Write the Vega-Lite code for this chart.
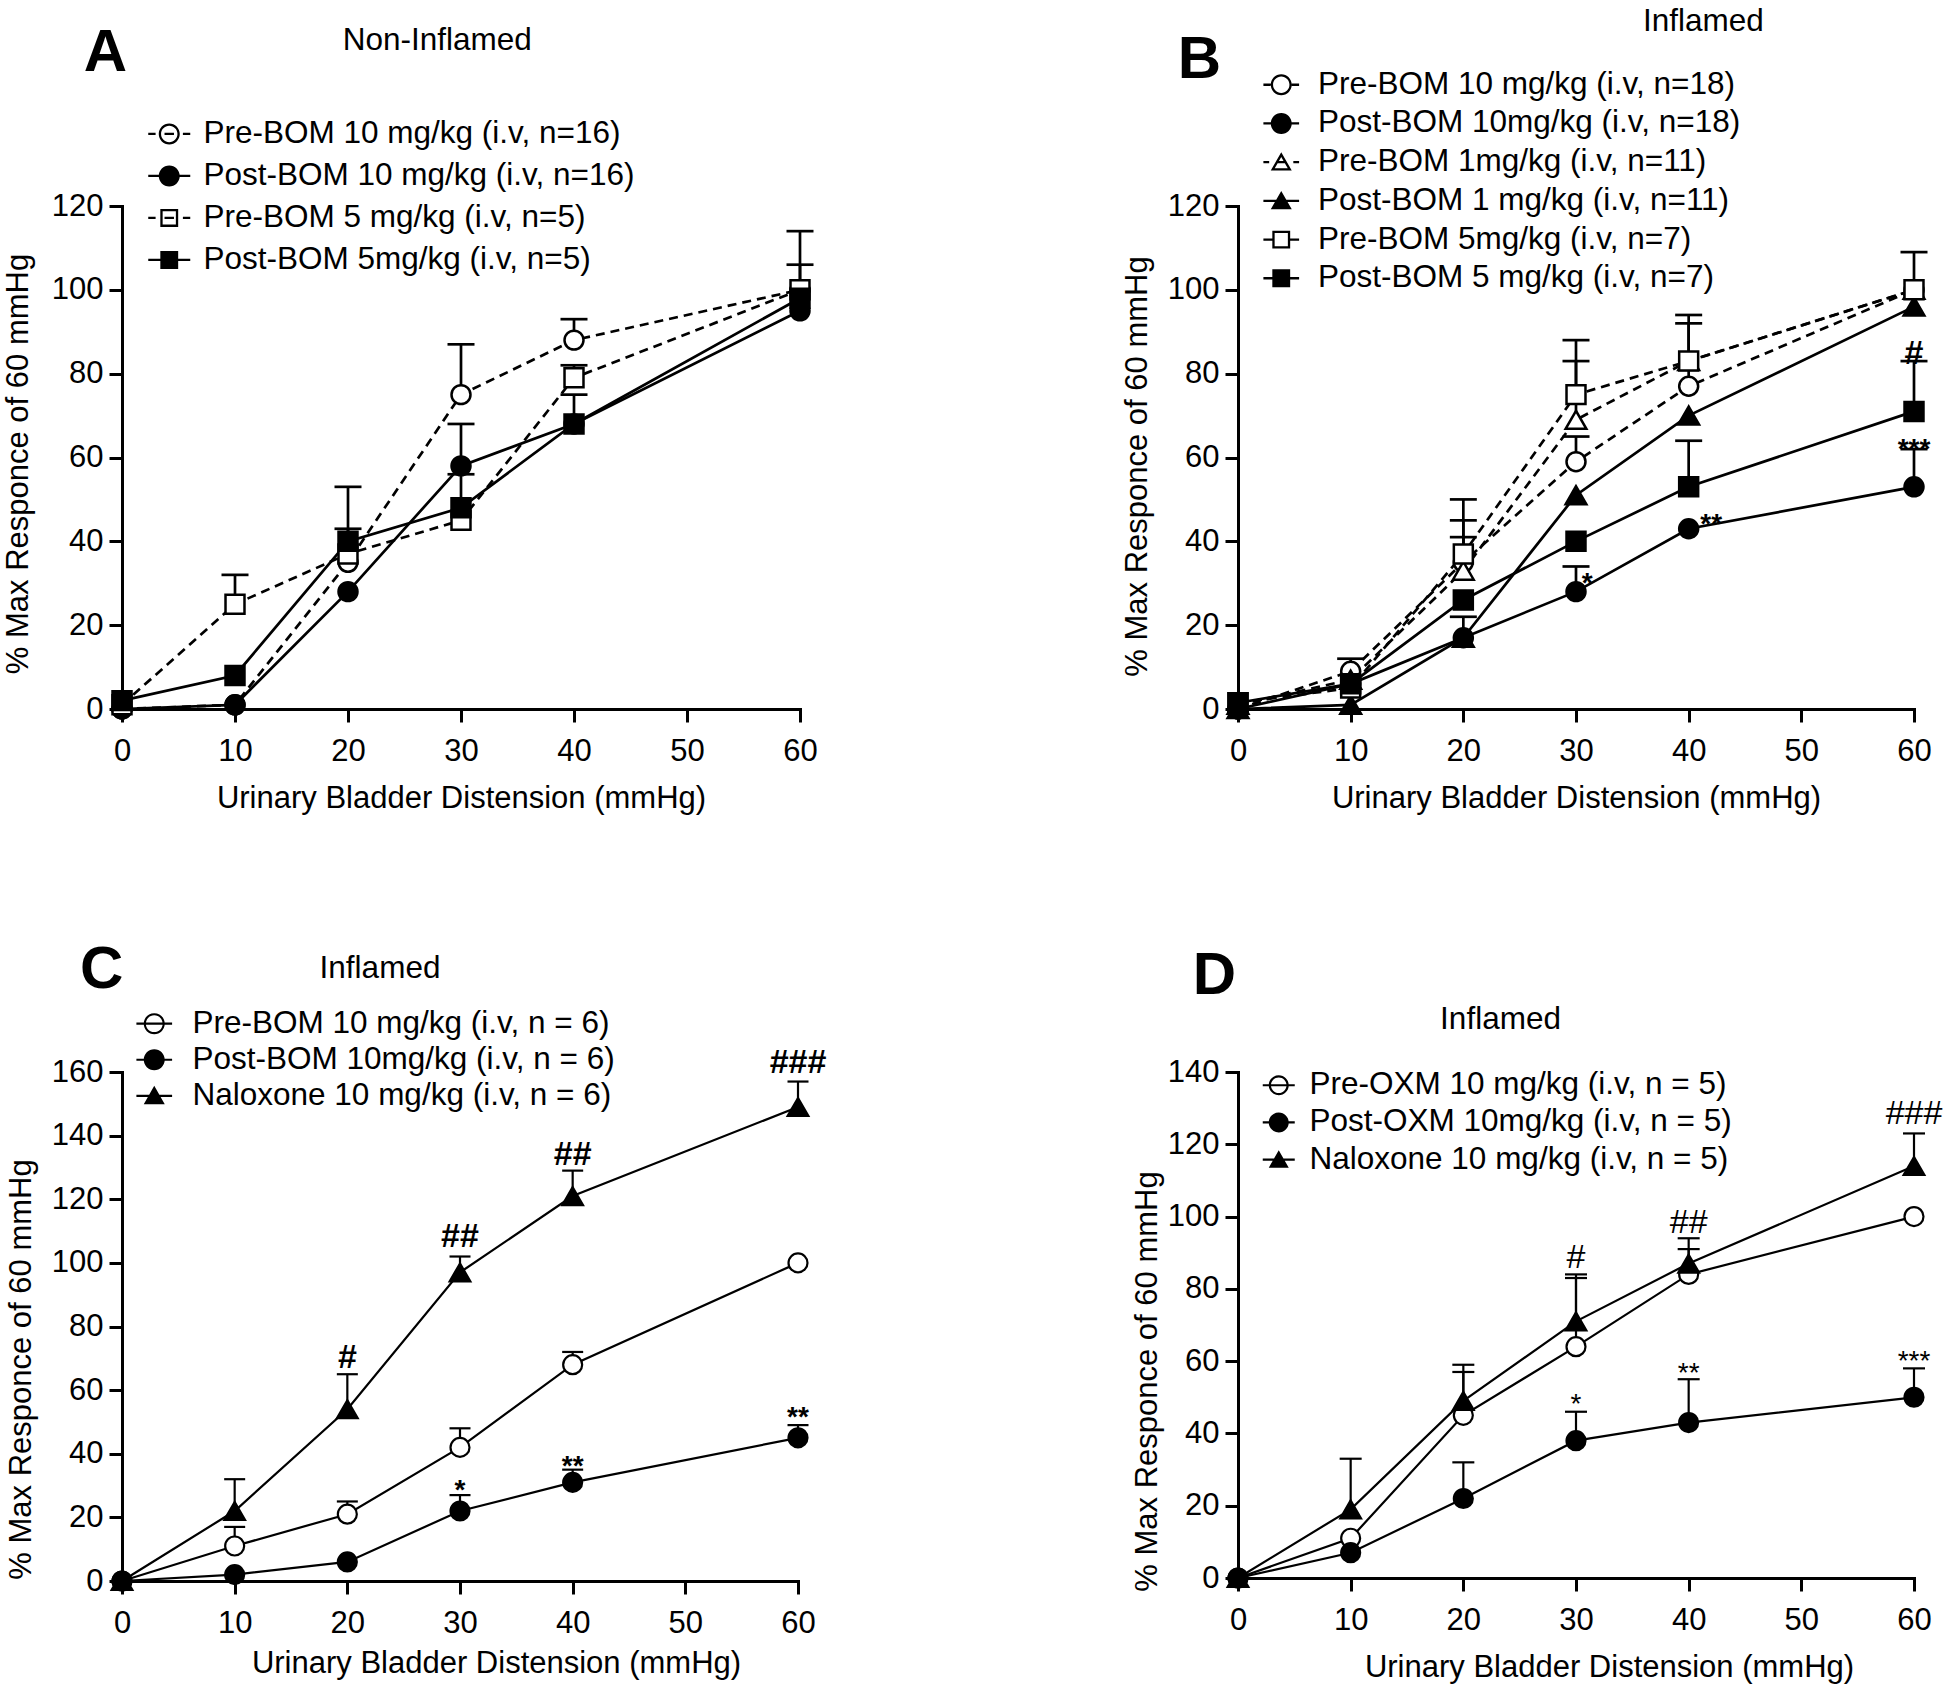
{
  "$schema": "https://vega.github.io/schema/vega-lite/v6.json",
  "autosize": "none",
  "padding": {"left": 122, "top": 206, "right": 1828, "bottom": 1480},
  "background": "white",
  "bounds": "flush",
  "columns": 2,
  "spacing": {"row": 363, "column": 438},
  "resolve": {
    "scale": {"x": "independent", "y": "independent", "shape": "independent"},
    "legend": {"shape": "independent"},
    "axis": {"x": "independent", "y": "independent"}
  },
  "config": {
    "font": "Liberation Sans",
    "view": {"stroke": null},
    "axis": {"grid": false, "domainColor": "black", "domainWidth": 3, "domainCap": "square", "tickColor": "black", "tickWidth": 3, "tickSize": 13,
      "labelFont": "Liberation Sans", "labelFontSize": 31, "labelColor": "black", "titleFont": "Liberation Sans", "titleFontSize": 31,
      "titleFontWeight": "normal", "titleColor": "black", "labelFlush": false, "labelOverlap": false},
    "axisX": {"labelPadding": 14, "titlePadding": 17.5},
    "axisY": {"labelPadding": 6, "titlePadding": 14},
    "legend": {"labelFont": "Liberation Sans", "labelFontSize": 31.5, "labelColor": "black", "symbolSize": 441, "padding": 0, "labelLimit": 0,
      "symbolStrokeWidth": 0, "symbolFillColor": "black", "symbolOpacity": 1}
  },
  "datasets": {
    "A": [
      {"series": "Pre-BOM 10 mg/kg (i.v, n=16)", "x": 0, "y": 0},
      {"series": "Pre-BOM 10 mg/kg (i.v, n=16)", "x": 10, "y": 1},
      {"series": "Pre-BOM 10 mg/kg (i.v, n=16)", "x": 20, "y": 35, "upper": 43},
      {"series": "Pre-BOM 10 mg/kg (i.v, n=16)", "x": 30, "y": 75, "upper": 87},
      {"series": "Pre-BOM 10 mg/kg (i.v, n=16)", "x": 40, "y": 88, "upper": 93},
      {"series": "Pre-BOM 10 mg/kg (i.v, n=16)", "x": 60, "y": 100, "upper": 106},
      {"series": "Post-BOM 10 mg/kg (i.v, n=16)", "x": 0, "y": 0},
      {"series": "Post-BOM 10 mg/kg (i.v, n=16)", "x": 10, "y": 1},
      {"series": "Post-BOM 10 mg/kg (i.v, n=16)", "x": 20, "y": 28},
      {"series": "Post-BOM 10 mg/kg (i.v, n=16)", "x": 30, "y": 58, "upper": 68},
      {"series": "Post-BOM 10 mg/kg (i.v, n=16)", "x": 40, "y": 68},
      {"series": "Post-BOM 10 mg/kg (i.v, n=16)", "x": 60, "y": 95},
      {"series": "Pre-BOM 5 mg/kg (i.v, n=5)", "x": 0, "y": 1},
      {"series": "Pre-BOM 5 mg/kg (i.v, n=5)", "x": 10, "y": 25, "upper": 32},
      {"series": "Pre-BOM 5 mg/kg (i.v, n=5)", "x": 20, "y": 37},
      {"series": "Pre-BOM 5 mg/kg (i.v, n=5)", "x": 30, "y": 45},
      {"series": "Pre-BOM 5 mg/kg (i.v, n=5)", "x": 40, "y": 79, "upper": 82},
      {"series": "Pre-BOM 5 mg/kg (i.v, n=5)", "x": 60, "y": 100, "upper": 114},
      {"series": "Post-BOM 5mg/kg (i.v, n=5)", "x": 0, "y": 2},
      {"series": "Post-BOM 5mg/kg (i.v, n=5)", "x": 10, "y": 8},
      {"series": "Post-BOM 5mg/kg (i.v, n=5)", "x": 20, "y": 40, "upper": 53},
      {"series": "Post-BOM 5mg/kg (i.v, n=5)", "x": 30, "y": 48, "upper": 56},
      {"series": "Post-BOM 5mg/kg (i.v, n=5)", "x": 40, "y": 68, "upper": 75},
      {"series": "Post-BOM 5mg/kg (i.v, n=5)", "x": 60, "y": 98}
    ],
    "B": [
      {"series": "Pre-BOM 10 mg/kg (i.v, n=18)", "x": 0, "y": 0},
      {"series": "Pre-BOM 10 mg/kg (i.v, n=18)", "x": 10, "y": 9},
      {"series": "Pre-BOM 10 mg/kg (i.v, n=18)", "x": 20, "y": 35, "upper": 45},
      {"series": "Pre-BOM 10 mg/kg (i.v, n=18)", "x": 30, "y": 59, "upper": 65},
      {"series": "Pre-BOM 10 mg/kg (i.v, n=18)", "x": 40, "y": 77, "upper": 92},
      {"series": "Pre-BOM 10 mg/kg (i.v, n=18)", "x": 60, "y": 100},
      {"series": "Post-BOM 10mg/kg (i.v, n=18)", "x": 0, "y": 0},
      {"series": "Post-BOM 10mg/kg (i.v, n=18)", "x": 10, "y": 6},
      {"series": "Post-BOM 10mg/kg (i.v, n=18)", "x": 20, "y": 17},
      {"series": "Post-BOM 10mg/kg (i.v, n=18)", "x": 30, "y": 28, "upper": 34},
      {"series": "Post-BOM 10mg/kg (i.v, n=18)", "x": 40, "y": 43},
      {"series": "Post-BOM 10mg/kg (i.v, n=18)", "x": 60, "y": 53, "upper": 62},
      {"series": "Pre-BOM 1mg/kg (i.v, n=11)", "x": 0, "y": 1},
      {"series": "Pre-BOM 1mg/kg (i.v, n=11)", "x": 10, "y": 7},
      {"series": "Pre-BOM 1mg/kg (i.v, n=11)", "x": 20, "y": 33, "upper": 41},
      {"series": "Pre-BOM 1mg/kg (i.v, n=11)", "x": 30, "y": 69, "upper": 83},
      {"series": "Pre-BOM 1mg/kg (i.v, n=11)", "x": 40, "y": 83},
      {"series": "Pre-BOM 1mg/kg (i.v, n=11)", "x": 60, "y": 100},
      {"series": "Post-BOM 1 mg/kg (i.v, n=11)", "x": 0, "y": 0},
      {"series": "Post-BOM 1 mg/kg (i.v, n=11)", "x": 10, "y": 1},
      {"series": "Post-BOM 1 mg/kg (i.v, n=11)", "x": 20, "y": 17, "upper": 22},
      {"series": "Post-BOM 1 mg/kg (i.v, n=11)", "x": 30, "y": 51},
      {"series": "Post-BOM 1 mg/kg (i.v, n=11)", "x": 40, "y": 70},
      {"series": "Post-BOM 1 mg/kg (i.v, n=11)", "x": 60, "y": 96},
      {"series": "Pre-BOM 5mg/kg (i.v, n=7)", "x": 0, "y": 1.5},
      {"series": "Pre-BOM 5mg/kg (i.v, n=7)", "x": 10, "y": 5, "upper": 12},
      {"series": "Pre-BOM 5mg/kg (i.v, n=7)", "x": 20, "y": 37, "upper": 50},
      {"series": "Pre-BOM 5mg/kg (i.v, n=7)", "x": 30, "y": 75, "upper": 88},
      {"series": "Pre-BOM 5mg/kg (i.v, n=7)", "x": 40, "y": 83, "upper": 94},
      {"series": "Pre-BOM 5mg/kg (i.v, n=7)", "x": 60, "y": 100, "upper": 109},
      {"series": "Post-BOM 5 mg/kg (i.v, n=7)", "x": 0, "y": 1.5},
      {"series": "Post-BOM 5 mg/kg (i.v, n=7)", "x": 10, "y": 6},
      {"series": "Post-BOM 5 mg/kg (i.v, n=7)", "x": 20, "y": 26},
      {"series": "Post-BOM 5 mg/kg (i.v, n=7)", "x": 30, "y": 40},
      {"series": "Post-BOM 5 mg/kg (i.v, n=7)", "x": 40, "y": 53, "upper": 64},
      {"series": "Post-BOM 5 mg/kg (i.v, n=7)", "x": 60, "y": 71, "upper": 83}
    ],
    "C": [
      {"series": "Pre-BOM 10 mg/kg (i.v, n = 6)", "x": 0, "y": 0},
      {"series": "Pre-BOM 10 mg/kg (i.v, n = 6)", "x": 10, "y": 11, "upper": 17},
      {"series": "Pre-BOM 10 mg/kg (i.v, n = 6)", "x": 20, "y": 21, "upper": 25},
      {"series": "Pre-BOM 10 mg/kg (i.v, n = 6)", "x": 30, "y": 42, "upper": 48},
      {"series": "Pre-BOM 10 mg/kg (i.v, n = 6)", "x": 40, "y": 68, "upper": 72},
      {"series": "Pre-BOM 10 mg/kg (i.v, n = 6)", "x": 60, "y": 100},
      {"series": "Post-BOM 10mg/kg (i.v, n = 6)", "x": 0, "y": 0},
      {"series": "Post-BOM 10mg/kg (i.v, n = 6)", "x": 10, "y": 2},
      {"series": "Post-BOM 10mg/kg (i.v, n = 6)", "x": 20, "y": 6},
      {"series": "Post-BOM 10mg/kg (i.v, n = 6)", "x": 30, "y": 22, "upper": 27},
      {"series": "Post-BOM 10mg/kg (i.v, n = 6)", "x": 40, "y": 31, "upper": 35},
      {"series": "Post-BOM 10mg/kg (i.v, n = 6)", "x": 60, "y": 45, "upper": 49},
      {"series": "Naloxone 10 mg/kg  (i.v, n = 6)", "x": 0, "y": 0},
      {"series": "Naloxone 10 mg/kg  (i.v, n = 6)", "x": 10, "y": 22, "upper": 32},
      {"series": "Naloxone 10 mg/kg  (i.v, n = 6)", "x": 20, "y": 54, "upper": 65},
      {"series": "Naloxone 10 mg/kg  (i.v, n = 6)", "x": 30, "y": 97, "upper": 102},
      {"series": "Naloxone 10 mg/kg  (i.v, n = 6)", "x": 40, "y": 121, "upper": 129},
      {"series": "Naloxone 10 mg/kg  (i.v, n = 6)", "x": 60, "y": 149, "upper": 157}
    ],
    "D": [
      {"series": "Pre-OXM 10 mg/kg (i.v, n = 5)", "x": 0, "y": 0},
      {"series": "Pre-OXM 10 mg/kg (i.v, n = 5)", "x": 10, "y": 11},
      {"series": "Pre-OXM 10 mg/kg (i.v, n = 5)", "x": 20, "y": 45, "upper": 57},
      {"series": "Pre-OXM 10 mg/kg (i.v, n = 5)", "x": 30, "y": 64, "upper": 83},
      {"series": "Pre-OXM 10 mg/kg (i.v, n = 5)", "x": 40, "y": 84, "upper": 91},
      {"series": "Pre-OXM 10 mg/kg (i.v, n = 5)", "x": 60, "y": 100},
      {"series": "Post-OXM 10mg/kg (i.v, n = 5)", "x": 0, "y": 0},
      {"series": "Post-OXM 10mg/kg (i.v, n = 5)", "x": 10, "y": 7},
      {"series": "Post-OXM 10mg/kg (i.v, n = 5)", "x": 20, "y": 22, "upper": 32},
      {"series": "Post-OXM 10mg/kg (i.v, n = 5)", "x": 30, "y": 38, "upper": 46},
      {"series": "Post-OXM 10mg/kg (i.v, n = 5)", "x": 40, "y": 43, "upper": 55},
      {"series": "Post-OXM 10mg/kg (i.v, n = 5)", "x": 60, "y": 50, "upper": 58},
      {"series": "Naloxone 10 mg/kg  (i.v, n = 5)", "x": 0, "y": 0},
      {"series": "Naloxone 10 mg/kg  (i.v, n = 5)", "x": 10, "y": 19, "upper": 33},
      {"series": "Naloxone 10 mg/kg  (i.v, n = 5)", "x": 20, "y": 49, "upper": 59},
      {"series": "Naloxone 10 mg/kg  (i.v, n = 5)", "x": 30, "y": 71, "upper": 84},
      {"series": "Naloxone 10 mg/kg  (i.v, n = 5)", "x": 40, "y": 87, "upper": 94},
      {"series": "Naloxone 10 mg/kg  (i.v, n = 5)", "x": 60, "y": 114, "upper": 123}
    ],
    "labA": [{"x": -1.47, "y": 156.4, "label": "A"}, {"x": 27.9, "y": 159.4, "label": "Non-Inflamed"}],
    "labB": [{"x": -3.42, "y": 154.9, "label": "B"}, {"x": 41.3, "y": 163.8, "label": "Inflamed"}],
    "labC": [{"x": -1.81, "y": 192.1, "label": "C"}, {"x": 22.9, "y": 192.5, "label": "Inflamed"}],
    "labD": [{"x": -2.09, "y": 166.6, "label": "D"}, {"x": 23.3, "y": 154.5, "label": "Inflamed"}],
    "annB": [
      {"x": 31, "y": 29.8, "label": "*"},
      {"x": 42, "y": 44, "label": "**"},
      {"x": 60, "y": 61.9, "label": "***"},
      {"x": 60, "y": 84.8, "label": "#"}
    ],
    "annC": [
      {"x": 30, "y": 28.2, "label": "*"},
      {"x": 40, "y": 35.9, "label": "**"},
      {"x": 60, "y": 51.3, "label": "**"},
      {"x": 20, "y": 70, "label": "#"},
      {"x": 30, "y": 108, "label": "##"},
      {"x": 40, "y": 134, "label": "##"},
      {"x": 60, "y": 162.7, "label": "###"}
    ],
    "annD": [
      {"x": 30, "y": 47.8, "label": "*"},
      {"x": 40, "y": 56.4, "label": "**"},
      {"x": 60, "y": 59.8, "label": "***"},
      {"x": 30, "y": 88.5, "label": "#"},
      {"x": 40, "y": 98.3, "label": "##"},
      {"x": 60, "y": 128.5, "label": "###"}
    ]
  },
  "concat": [
    {
      "width": 678, "height": 503,
      "encoding": {
        "x": {"field": "x", "type": "quantitative", "scale": {"domain": [0, 60], "nice": false, "zero": false},
          "axis": {"values": [0, 10, 20, 30, 40, 50, 60], "title": "Urinary Bladder Distension (mmHg)"}},
        "y": {"field": "y", "type": "quantitative", "scale": {"domain": [0, 120], "nice": false},
          "axis": {"values": [0, 20, 40, 60, 80, 100, 120], "title": "% Max Responce of 60 mmHg", "titleY": 257.5, "titlePadding": 16.5}}
      },
      "layer": [
        {"data": {"name": "A"}, "transform": [{"filter": {"field": "upper", "valid": true}}],
          "mark": {"type": "rule", "color": "black", "strokeWidth": 2.7},
          "encoding": {"y2": {"field": "upper"}}},
        {"data": {"name": "A"}, "transform": [{"filter": {"field": "upper", "valid": true}}],
          "mark": {"type": "tick", "orient": "horizontal", "color": "black", "size": 27, "thickness": 2.7, "opacity": 1},
          "encoding": {"y": {"field": "upper", "type": "quantitative", "scale": {"domain": [0, 120], "nice": false}}}},
        {"data": {"name": "A"}, "transform": [{"filter": "indexof(datum.series,'Pre')===0"}],
          "mark": {"type": "line", "color": "black", "strokeWidth": 2.7, "strokeDash": [9, 6]},
          "encoding": {"detail": {"field": "series", "type": "nominal"}}},
        {"data": {"name": "A"}, "transform": [{"filter": "indexof(datum.series,'Pre')!==0"}],
          "mark": {"type": "line", "color": "black", "strokeWidth": 2.7},
          "encoding": {"detail": {"field": "series", "type": "nominal"}}},
        {"data": {"name": "A"}, "mark": {"type": "point", "stroke": "black", "strokeWidth": 2.5, "size": 360, "opacity": 1},
          "encoding": {
            "fill": {"condition": {"test": "indexof(datum.series,'Pre')===0", "value": "white"}, "value": "black"},
            "shape": {"condition": {"test": "indexof(datum.series,'BOM 5')>=0", "value": "square"}, "value": "circle"}
          }},
        {"data": {"name": "A"}, "transform": [{"filter": "false"}],
          "mark": {"type": "point", "filled": true, "color": "black", "opacity": 1},
          "encoding": {
            "shape": {"field": "series", "type": "nominal",
              "scale": {"domain": ["Pre-BOM 10 mg/kg (i.v, n=16)", "Post-BOM 10 mg/kg (i.v, n=16)", "Pre-BOM 5 mg/kg (i.v, n=5)", "Post-BOM 5mg/kg (i.v, n=5)"],
                "range": [
                  "M-2,-0.11H-1.3V0.11H-2ZM-0.45,-0.11H0.45V0.11H-0.45ZM1.3,-0.11H2V0.11H1.3ZM-1,0A1,1,0,1,1,1,0A1,1,0,1,1,-1,0ZM-0.78,0A0.78,0.78,0,1,0,0.78,0A0.78,0.78,0,1,0,-0.78,0Z",
                  "M-2,-0.11H2V0.11H-2ZM-1,0A1,1,0,1,1,1,0A1,1,0,1,1,-1,0Z",
                  "M-2,-0.11H-1.3V0.11H-2ZM-0.45,-0.11H0.45V0.11H-0.45ZM1.3,-0.11H2V0.11H1.3ZM-0.85,-0.85H0.85V0.85H-0.85ZM-0.63,-0.63V0.63H0.63V-0.63Z",
                  "M-2,-0.11H2V0.11H-2ZM-0.85,-0.85H0.85V0.85H-0.85Z"]},
              "legend": {"title": null, "orient": "none", "legendX": 31.5, "legendY": -87.8, "labelOffset": 18.5, "rowPadding": 9, "symbolSize": 441, "symbolStrokeWidth": 0, "symbolFillColor": "black"}}
          }},
        {"data": {"name": "labA"}, "transform": [{"filter": "length(datum.label)===1"}],
          "mark": {"type": "text", "fontSize": 60, "fontWeight": "bold", "baseline": "middle", "align": "center", "color": "black"},
          "encoding": {"text": {"field": "label"}}},
        {"data": {"name": "labA"}, "transform": [{"filter": "length(datum.label)>1"}],
          "mark": {"type": "text", "fontSize": 31.5, "baseline": "middle", "align": "center", "color": "black"},
          "encoding": {"text": {"field": "label"}}}
      ]
    },
    {
      "width": 676, "height": 503,
      "encoding": {
        "x": {"field": "x", "type": "quantitative", "scale": {"domain": [0, 60], "nice": false, "zero": false},
          "axis": {"values": [0, 10, 20, 30, 40, 50, 60], "title": "Urinary Bladder Distension (mmHg)"}},
        "y": {"field": "y", "type": "quantitative", "scale": {"domain": [0, 120], "nice": false},
          "axis": {"values": [0, 20, 40, 60, 80, 100, 120], "title": "% Max Responce of 60 mmHg", "titleY": 260}}
      },
      "layer": [
        {"data": {"name": "B"}, "transform": [{"filter": {"field": "upper", "valid": true}}],
          "mark": {"type": "rule", "color": "black", "strokeWidth": 2.7},
          "encoding": {"y2": {"field": "upper"}}},
        {"data": {"name": "B"}, "transform": [{"filter": {"field": "upper", "valid": true}}],
          "mark": {"type": "tick", "orient": "horizontal", "color": "black", "size": 27, "thickness": 2.7, "opacity": 1},
          "encoding": {"y": {"field": "upper", "type": "quantitative", "scale": {"domain": [0, 120], "nice": false}}}},
        {"data": {"name": "B"}, "transform": [{"filter": "indexof(datum.series,'Pre')===0"}],
          "mark": {"type": "line", "color": "black", "strokeWidth": 2.7, "strokeDash": [9, 6]},
          "encoding": {"detail": {"field": "series", "type": "nominal"}}},
        {"data": {"name": "B"}, "transform": [{"filter": "indexof(datum.series,'Pre')!==0"}],
          "mark": {"type": "line", "color": "black", "strokeWidth": 2.7},
          "encoding": {"detail": {"field": "series", "type": "nominal"}}},
        {"data": {"name": "B"}, "mark": {"type": "point", "stroke": "black", "strokeWidth": 2.5, "opacity": 1},
          "encoding": {
            "fill": {"condition": {"test": "indexof(datum.series,'Pre')===0", "value": "white"}, "value": "black"},
            "size": {"condition": {"test": "indexof(datum.series,'BOM 1m')>=0 || indexof(datum.series,'BOM 1 ')>=0", "value": 430}, "value": 360},
            "shape": {"condition": [
              {"test": "indexof(datum.series,'BOM 5')>=0", "value": "square"},
              {"test": "indexof(datum.series,'BOM 1m')>=0 || indexof(datum.series,'BOM 1 ')>=0", "value": "triangle-up"}
            ], "value": "circle"}
          }},
        {"data": {"name": "B"}, "transform": [{"filter": "false"}],
          "mark": {"type": "point", "filled": true, "color": "black", "opacity": 1},
          "encoding": {
            "shape": {"field": "series", "type": "nominal",
              "scale": {"domain": ["Pre-BOM 10 mg/kg (i.v, n=18)", "Post-BOM 10mg/kg (i.v, n=18)", "Pre-BOM 1mg/kg (i.v, n=11)", "Post-BOM 1 mg/kg (i.v, n=11)", "Pre-BOM 5mg/kg (i.v, n=7)", "Post-BOM 5 mg/kg (i.v, n=7)"],
                "range": [
                  "M-1.7,-0.11H-1V0.11H-1.7ZM1,-0.11H1.7V0.11H1ZM-1,0A1,1,0,1,1,1,0A1,1,0,1,1,-1,0ZM-0.78,0A0.78,0.78,0,1,0,0.78,0A0.78,0.78,0,1,0,-0.78,0Z",
                  "M-1.7,-0.11H1.7V0.11H-1.7ZM-1,0A1,1,0,1,1,1,0A1,1,0,1,1,-1,0Z",
                  "M-1.7,-0.11H-1.15V0.11H-1.7ZM-0.35,-0.11H0.35V0.11H-0.35ZM1.15,-0.11H1.7V0.11H1.15ZM0,-0.95L1,0.8L-1,0.8ZM0,-0.5L-0.62,0.58L0.62,0.58Z",
                  "M-1.7,-0.11H1.7V0.11H-1.7ZM0,-0.95L1,0.8L-1,0.8Z",
                  "M-1.7,-0.11H-0.85V0.11H-1.7ZM0.85,-0.11H1.7V0.11H0.85ZM-0.85,-0.85H0.85V0.85H-0.85ZM-0.63,-0.63V0.63H0.63V-0.63Z",
                  "M-1.7,-0.11H1.7V0.11H-1.7ZM-0.85,-0.85H0.85V0.85H-0.85Z"]},
              "legend": {"title": null, "orient": "none", "legendX": 27.5, "legendY": -137, "labelOffset": 21, "rowPadding": 5.7, "symbolSize": 441, "symbolStrokeWidth": 0, "symbolFillColor": "black"}}
          }},
        {"data": {"name": "annB"}, "mark": {"type": "text", "fontWeight": "bold", "baseline": "middle", "align": "center", "color": "black"},
          "encoding": {"text": {"field": "label"},
            "size": {"condition": {"test": "indexof(datum.label,'#')>=0", "value": 34}, "value": 28}}},
        {"data": {"name": "labB"}, "transform": [{"filter": "length(datum.label)===1"}],
          "mark": {"type": "text", "fontSize": 60, "fontWeight": "bold", "baseline": "middle", "align": "center", "color": "black"},
          "encoding": {"text": {"field": "label"}}},
        {"data": {"name": "labB"}, "transform": [{"filter": "length(datum.label)>1"}],
          "mark": {"type": "text", "fontSize": 31.5, "baseline": "middle", "align": "center", "color": "black"},
          "encoding": {"text": {"field": "label"}}}
      ]
    },
    {
      "width": 676, "height": 509,
      "encoding": {
        "x": {"field": "x", "type": "quantitative", "scale": {"domain": [0, 60], "nice": false, "zero": false},
          "axis": {"values": [0, 10, 20, 30, 40, 50, 60], "title": "Urinary Bladder Distension (mmHg)", "titleX": 374, "titlePadding": 10}},
        "y": {"field": "y", "type": "quantitative", "scale": {"domain": [0, 160], "nice": false},
          "axis": {"values": [0, 20, 40, 60, 80, 100, 120, 140, 160], "title": "% Max Responce of 60 mmHg", "titleY": 297}}
      },
      "layer": [
        {"data": {"name": "C"}, "transform": [{"filter": {"field": "upper", "valid": true}}],
          "mark": {"type": "rule", "color": "black", "strokeWidth": 2.2},
          "encoding": {"y2": {"field": "upper"}}},
        {"data": {"name": "C"}, "transform": [{"filter": {"field": "upper", "valid": true}}],
          "mark": {"type": "tick", "orient": "horizontal", "color": "black", "size": 21, "thickness": 2.2, "opacity": 1},
          "encoding": {"y": {"field": "upper", "type": "quantitative", "scale": {"domain": [0, 160], "nice": false}}}},
        {"data": {"name": "C"}, "mark": {"type": "line", "color": "black", "strokeWidth": 2.2},
          "encoding": {"detail": {"field": "series", "type": "nominal"}}},
        {"data": {"name": "C"}, "mark": {"type": "point", "stroke": "black", "strokeWidth": 2.2, "opacity": 1},
          "encoding": {
            "fill": {"condition": {"test": "indexof(datum.series,'Pre')===0", "value": "white"}, "value": "black"},
            "size": {"condition": {"test": "indexof(datum.series,'Nalox')===0", "value": 430}, "value": 360},
            "shape": {"condition": {"test": "indexof(datum.series,'Nalox')===0", "value": "triangle-up"}, "value": "circle"}
          }},
        {"data": {"name": "C"}, "transform": [{"filter": "false"}],
          "mark": {"type": "point", "filled": true, "color": "black", "opacity": 1},
          "encoding": {
            "shape": {"field": "series", "type": "nominal",
              "scale": {"domain": ["Pre-BOM 10 mg/kg (i.v, n = 6)", "Post-BOM 10mg/kg (i.v, n = 6)", "Naloxone 10 mg/kg  (i.v, n = 6)"],
                "range": [
                  "M-1.7,-0.1H1.7V0.1H-1.7ZM-1,0A1,1,0,1,1,1,0A1,1,0,1,1,-1,0ZM-0.8,0A0.8,0.8,0,1,0,0.8,0A0.8,0.8,0,1,0,-0.8,0Z",
                  "M-1.7,-0.1H1.7V0.1H-1.7ZM-1,0A1,1,0,1,1,1,0A1,1,0,1,1,-1,0Z",
                  "M-1.7,-0.1H1.7V0.1H-1.7ZM0,-0.95L1,0.8L-1,0.8Z"]},
              "legend": {"title": null, "orient": "none", "legendX": 16.5, "legendY": -64.1, "labelOffset": 22.5, "rowPadding": 3.1, "symbolSize": 441, "symbolStrokeWidth": 0, "symbolFillColor": "black"}}
          }},
        {"data": {"name": "annC"}, "mark": {"type": "text", "fontWeight": "bold", "baseline": "middle", "align": "center", "color": "black"},
          "encoding": {"text": {"field": "label"},
            "size": {"condition": {"test": "indexof(datum.label,'#')>=0", "value": 34}, "value": 28}}},
        {"data": {"name": "labC"}, "transform": [{"filter": "length(datum.label)===1"}],
          "mark": {"type": "text", "fontSize": 60, "fontWeight": "bold", "baseline": "middle", "align": "center", "color": "black"},
          "encoding": {"text": {"field": "label"}}},
        {"data": {"name": "labC"}, "transform": [{"filter": "length(datum.label)>1"}],
          "mark": {"type": "text", "fontSize": 31.5, "baseline": "middle", "align": "center", "color": "black"},
          "encoding": {"text": {"field": "label"}}}
      ]
    },
    {
      "width": 676, "height": 506,
      "encoding": {
        "x": {"field": "x", "type": "quantitative", "scale": {"domain": [0, 60], "nice": false, "zero": false},
          "axis": {"values": [0, 10, 20, 30, 40, 50, 60], "title": "Urinary Bladder Distension (mmHg)", "titleX": 371}},
        "y": {"field": "y", "type": "quantitative", "scale": {"domain": [0, 140], "nice": false},
          "axis": {"values": [0, 20, 40, 60, 80, 100, 120, 140], "title": "% Max Responce of 60 mmHg", "titleY": 309, "titlePadding": 4}}
      },
      "layer": [
        {"data": {"name": "D"}, "transform": [{"filter": {"field": "upper", "valid": true}}],
          "mark": {"type": "rule", "color": "black", "strokeWidth": 2.2},
          "encoding": {"y2": {"field": "upper"}}},
        {"data": {"name": "D"}, "transform": [{"filter": {"field": "upper", "valid": true}}],
          "mark": {"type": "tick", "orient": "horizontal", "color": "black", "size": 22, "thickness": 2.2, "opacity": 1},
          "encoding": {"y": {"field": "upper", "type": "quantitative", "scale": {"domain": [0, 140], "nice": false}}}},
        {"data": {"name": "D"}, "mark": {"type": "line", "color": "black", "strokeWidth": 2.2},
          "encoding": {"detail": {"field": "series", "type": "nominal"}}},
        {"data": {"name": "D"}, "mark": {"type": "point", "stroke": "black", "strokeWidth": 2.2, "opacity": 1},
          "encoding": {
            "fill": {"condition": {"test": "indexof(datum.series,'Pre')===0", "value": "white"}, "value": "black"},
            "size": {"condition": {"test": "indexof(datum.series,'Nalox')===0", "value": 430}, "value": 360},
            "shape": {"condition": {"test": "indexof(datum.series,'Nalox')===0", "value": "triangle-up"}, "value": "circle"}
          }},
        {"data": {"name": "D"}, "transform": [{"filter": "false"}],
          "mark": {"type": "point", "filled": true, "color": "black", "opacity": 1},
          "encoding": {
            "shape": {"field": "series", "type": "nominal",
              "scale": {"domain": ["Pre-OXM 10 mg/kg (i.v, n = 5)", "Post-OXM 10mg/kg (i.v, n = 5)", "Naloxone 10 mg/kg  (i.v, n = 5)"],
                "range": [
                  "M-1.6,-0.11H1.6V0.11H-1.6ZM-1,0A1,1,0,1,1,1,0A1,1,0,1,1,-1,0ZM-0.78,0A0.78,0.78,0,1,0,0.78,0A0.78,0.78,0,1,0,-0.78,0Z",
                  "M-1.6,-0.11H1.6V0.11H-1.6ZM-1,0A1,1,0,1,1,1,0A1,1,0,1,1,-1,0Z",
                  "M-1.6,-0.11H1.6V0.11H-1.6ZM0,-0.95L1,0.8L-1,0.8Z"]},
              "legend": {"title": null, "orient": "none", "legendX": 25, "legendY": -2.5, "labelOffset": 15, "rowPadding": 4.2, "symbolSize": 400, "symbolStrokeWidth": 0, "symbolFillColor": "black"}}
          }},
        {"data": {"name": "annD"}, "mark": {"type": "text", "baseline": "middle", "align": "center", "color": "black"},
          "encoding": {"text": {"field": "label"},
            "size": {"condition": {"test": "indexof(datum.label,'#')>=0", "value": 34}, "value": 28}}},
        {"data": {"name": "labD"}, "transform": [{"filter": "length(datum.label)===1"}],
          "mark": {"type": "text", "fontSize": 60, "fontWeight": "bold", "baseline": "middle", "align": "center", "color": "black"},
          "encoding": {"text": {"field": "label"}}},
        {"data": {"name": "labD"}, "transform": [{"filter": "length(datum.label)>1"}],
          "mark": {"type": "text", "fontSize": 31.5, "baseline": "middle", "align": "center", "color": "black"},
          "encoding": {"text": {"field": "label"}}}
      ]
    }
  ]
}
